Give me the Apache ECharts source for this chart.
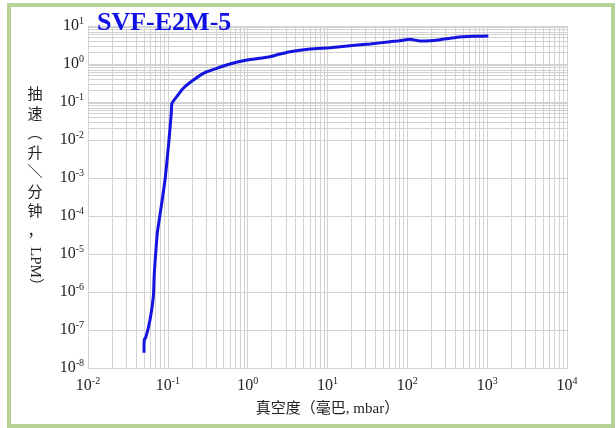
<!DOCTYPE html>
<html><head><meta charset="utf-8">
<script src="https://cdn.jsdelivr.net/npm/echarts@6/dist/echarts.min.js"></script>
<style>html,body{margin:0;padding:0;background:#fff}#c{width:616px;height:428px}</style>
</head><body><div id="c"></div>
<script>
const chartTitle = 'SVF-E2M-5';
const xAxisTitle = '真空度（毫巴, mbar）';
const yAxisTitleVertical = '抽\n速\n︵\n升\n＼\n分\n钟\n，';
const yAxisTitleRotated = 'LPM）';
// pressure (mbar) and pumping speed (L/min)
const pressure = [0.0503, 0.0507, 0.0533, 0.0598, 0.0658, 0.0677, 0.0705, 0.0738, 0.078, 0.0922, 0.1034, 0.1105, 0.1128, 0.1291, 0.1562, 0.1896, 0.278, 0.4095, 0.601, 0.882, 1.428, 1.905, 2.542, 3.39, 6.04, 10.75, 19.14, 34.1, 60.7, 80.9, 108, 144, 192, 257, 343, 457, 671, 1034];
const speed = [2.53e-8, 5.46e-8, 6.67e-8, 1.83e-7, 7.5e-7, 3.16e-6, 1.06e-5, 3.57e-5, 7.85e-5, 8.86e-4, 0.01, 0.0514, 0.0925, 0.138, 0.23, 0.326, 0.569, 0.771, 1.0, 1.22, 1.41, 1.556, 1.83, 2.11, 2.48, 2.69, 3.03, 3.36, 3.86, 4.1, 4.47, 4.03, 4.1, 4.36, 4.75, 5.14, 5.36, 5.46];
const xTickExponents = [-2, -1, 0, 1, 2, 3, 4];
const yTickExponents = [-8, -7, -6, -5, -4, -3, -2, -1, 0, 1];

const FONT = "'Liberation Serif', 'Noto Sans CJK SC', serif";
const CJK = "'Noto Sans CJK SC', 'Liberation Serif', sans-serif";
const GRID = '#d2d2d2';

function minorValues(exps) {
  const out = [];
  for (let i = 0; i < exps.length - 1; i++) {
    for (let m = 2; m <= 9; m++) out.push(m * Math.pow(10, exps[i]));
  }
  return out;
}
function powLabel(v) {
  const e = Math.round(Math.log10(v));
  return '{b|10}{s|' + e + '}';
}
const labelRich = {
  b: { fontSize: 16, fontFamily: FONT, color: '#222' },
  s: { fontSize: 10, fontFamily: FONT, color: '#222', padding: [0, 0, 9, 0] }
};

const xData = pressure.map((p, i) => [p, speed[i]]);
const chart = echarts.init(document.getElementById('c'), null, { renderer: 'canvas' });
chart.setOption({
  animation: false,
  backgroundColor: '#fff',
  title: {
    text: chartTitle, left: 92, top: 5,
    textStyle: { fontFamily: FONT, fontSize: 26, fontWeight: 'bold', color: '#1010e6' }
  },
  grid: { left: 88, right: 49, top: 26, bottom: 60 },
  xAxis: {
    type: 'log', logBase: 10,
    min: Math.pow(10, xTickExponents[0]), max: Math.pow(10, xTickExponents[xTickExponents.length - 1]),
    splitNumber: xTickExponents.length - 1,
    name: xAxisTitle, nameLocation: 'middle', nameGap: 34,
    nameTextStyle: { fontFamily: FONT, fontSize: 15, color: '#222' },
    axisLine: { show: true, lineStyle: { color: GRID } },
    axisTick: { show: false },
    axisLabel: { formatter: powLabel, rich: labelRich, margin: 8 },
    splitLine: { show: true, lineStyle: { color: GRID, width: 1 } }
  },
  yAxis: {
    type: 'log', logBase: 10,
    min: Math.pow(10, yTickExponents[0]), max: Math.pow(10, yTickExponents[yTickExponents.length - 1]),
    splitNumber: yTickExponents.length - 1,
    axisLine: { show: true, lineStyle: { color: GRID } },
    axisTick: { show: false },
    axisLabel: { formatter: powLabel, rich: labelRich, margin: 4 },
    splitLine: { show: true, lineStyle: { color: GRID, width: 1 } }
  },
  series: [
    {
      type: 'line', data: [], silent: true, z: 1,
      markLine: {
        silent: true, symbol: 'none', label: { show: false },
        lineStyle: { color: GRID, width: 1, type: 'solid' },
        emphasis: { disabled: true },
        data: minorValues(xTickExponents).map(v => ({ xAxis: v }))
          .concat(minorValues(yTickExponents).map(v => ({ yAxis: v })))
      }
    },
    {
      type: 'line', data: xData, z: 5, showSymbol: false, smooth: 0.2,
      lineStyle: { color: '#1414e0', width: 3 }
    }
  ],
  graphic: [
    { type: 'rect', silent: true, z: 100,
      shape: { x: 9, y: 5, width: 604, height: 421 },
      style: { fill: 'none', stroke: '#b7d296', lineWidth: 4 } },
    { type: 'text', x: 35, y: 84, silent: true,
      style: { text: yAxisTitleVertical, fontFamily: CJK, fontSize: 15, lineHeight: 19.5,
               align: 'center', verticalAlign: 'top', fill: '#222' } },
    { type: 'text', x: 35, y: 270, rotation: -Math.PI / 2, silent: true,
      style: { text: yAxisTitleRotated, fontFamily: FONT, fontSize: 15,
               align: 'center', verticalAlign: 'middle', fill: '#222' } }
  ]
});
</script></body></html>
